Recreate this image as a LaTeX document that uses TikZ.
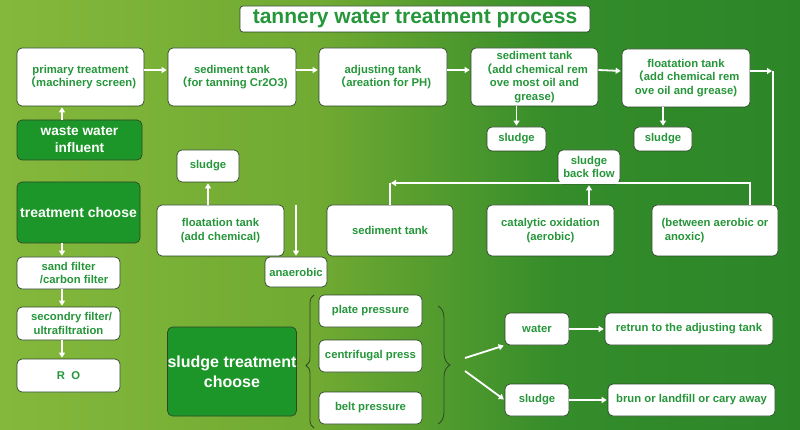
\documentclass[tikz,border=0pt]{standalone}
\usepackage{fontspec}
\setmainfont{Liberation Sans}
\newfontfamily\cjkfont{Noto Sans CJK SC}
\usetikzlibrary{arrows.meta,decorations.pathreplacing}
\definecolor{txtgreen}{RGB}{38,150,58}
\definecolor{boxgreen}{RGB}{28,150,40}
\definecolor{boxline}{RGB}{45,70,40}
\definecolor{bgl}{RGB}{132,184,60}
\definecolor{bgm}{RGB}{112,170,50}
\definecolor{bgd}{RGB}{52,140,42}
\definecolor{bgr}{RGB}{44,134,40}
\pgfdeclarehorizontalshading{bgshade}{100bp}{color(0bp)=(bgl); color(25bp)=(bgl); color(45bp)=(bgm); color(60bp)=(bgd); color(75bp)=(bgr); color(100bp)=(bgr)}
\newcommand\fwp{{\cjkfont （}}
\tikzset{
  box/.style={draw=boxline, fill=white, rounded corners=5pt, line width=0.7pt, inner sep=0pt,
    align=center, text=txtgreen, font=\bfseries\fontsize{11.3}{13.5}\selectfont},
  gbox/.style={box, fill=boxgreen, text=white},
  arr/.style={draw=white, line width=1.8pt, shorten >=1pt, -{Triangle[length=5pt,width=6pt]}},
  wline/.style={draw=white, line width=1.8pt},
  brc/.style={draw=boxline, line width=0.8pt, decorate}
}
\begin{document}
\begin{tikzpicture}[x=1pt,y=-1pt]
    \useasboundingbox (0,0) rectangle (800,430);
    \shade[shading=bgshade] (0,0) rectangle (800,430);
    \node[box, rounded corners=3pt, minimum width=350pt, minimum height=26pt,
      font=\bfseries\fontsize{21}{24}\selectfont] (title) at (415,19) {tannery water treatment process};

    \node[box, minimum width=127pt, minimum height=58pt] (prim) at (80.5,77) {primary treatment\\\fwp machinery screen)};
    \node[box, minimum width=128pt, minimum height=58pt] (sed1) at (232,77) {sediment tank\\\fwp for tanning Cr2O3)};
    \node[box, minimum width=128pt, minimum height=58pt] (adj) at (383,77) {adjusting tank\\\fwp areation for PH)};
    \node[box, minimum width=127pt, minimum height=58pt] (sed2) at (534.5,77) {sediment tank\\\fwp add chemical rem\\ove most oil and\\grease)};
    \node[box, minimum width=128pt, minimum height=58pt] (flo1) at (686,78) {floatation tank\\\fwp add chemical rem\\ove oil and grease)};
    \node[box, minimum width=59pt, minimum height=24pt] (sludgeA) at (516.5,139) {sludge};
    \node[box, minimum width=58pt, minimum height=24pt] (sludgeB) at (663,139) {sludge};
    \node[box, minimum width=62pt, minimum height=34pt] (backflow) at (589,167) {sludge\\back flow};
    \node[box, minimum width=62pt, minimum height=32pt] (sludgeC) at (208,166) {sludge};

    \node[box, minimum width=127pt, minimum height=51pt] (flo2) at (220.5,230.5) {floatation tank\\(add chemical)};
    \node[box, minimum width=126pt, minimum height=51pt] (sed3) at (390,230.5) {sediment tank};
    \node[box, minimum width=127pt, minimum height=51pt] (cat) at (550.5,230.5) {catalytic oxidation\\(aerobic)};
    \node[box, minimum width=126pt, minimum height=51pt, align=left] (anox) at (715,230.5) {(between aerobic or\\\ anoxic)};
    \node[box, minimum width=62pt, minimum height=30pt] (anaer) at (296,272) {anaerobic};

    \node[gbox, minimum width=125pt, minimum height=40pt, font=\bfseries\fontsize{13.7}{17}\selectfont] (waste) at (79.5,140) {waste water\\influent};
    \node[gbox, minimum width=123pt, minimum height=61pt, font=\bfseries\fontsize{14}{16}\selectfont] (tchoose) at (78.5,212.5) {treatment choose};
    \node[box, minimum width=103pt, minimum height=32pt] (sand) at (68.5,273) {sand filter\\\quad /carbon filter};
    \node[box, minimum width=103pt, minimum height=33pt] (second) at (68.5,323.5) {\ \ secondry filter/\\ultrafiltration};
    \node[box, minimum width=103pt, minimum height=33pt] (ro) at (68.5,375.5) {R\ \ O};

    \node[gbox, minimum width=128pt, minimum height=89pt, font=\bfseries\fontsize{16}{20}\selectfont] (stc) at (232,371.5) {sludge treatment\\choose};
    \node[box, minimum width=103pt, minimum height=32pt] (plate) at (370.5,311) {plate pressure};
    \node[box, minimum width=103pt, minimum height=32pt] (centri) at (370.5,356) {centrifugal press};
    \node[box, minimum width=103pt, minimum height=32pt] (belt) at (370.5,408) {belt pressure};
    \node[box, minimum width=64pt, minimum height=32pt] (water) at (537,329) {water};
    \node[box, minimum width=168pt, minimum height=32pt] (retrun) at (689,329) {retrun to the adjusting tank};
    \node[box, minimum width=64pt, minimum height=32pt] (sludgeD) at (537,400) {sludge};
    \node[box, minimum width=167pt, minimum height=32pt] (brun) at (691.5,400) {brun or landfill or cary away};

    \coordinate (lc) at (62,0);
    \coordinate (rc) at (773,71);
    \coordinate (bfl) at (390,183);
    \coordinate (bfr) at (750,183);
    \coordinate (an) at (296,205);
    \coordinate (forkw) at (465,358);
    \coordinate (forks) at (465,371);

    \draw[arr] ([yshift=7pt]prim.east) -- ([yshift=7pt]sed1.west);
    \draw[arr] ([yshift=7pt]sed1.east) -- ([yshift=7pt]adj.west);
    \draw[arr] ([yshift=7pt]adj.east) -- ([yshift=7pt]sed2.west);
    \draw[arr] ([yshift=7pt]sed2.east) -- ([yshift=7pt]flo1.west);
    \draw[arr] (flo1.east |- rc) -- (rc);
    \draw[wline] (rc) -- (anox.north -| rc);
    \draw[arr] (sed2.south -| sludgeA) -- (sludgeA.north);
    \draw[arr] (flo1.south -| sludgeB) -- (sludgeB.north);
    \draw[arr] (anox.north -| bfr) -- (bfr) -- (bfl);
    \draw[wline] (bfl) -- (sed3.north -| bfl);
    \draw[arr] (cat.north -| backflow) -- (backflow.south);
    \draw[arr] (flo2.north -| sludgeC) -- (sludgeC.south);
    \draw[arr] (an) -- (anaer.north -| an);

    \draw[arr] (waste.north -| lc) -- (prim.south -| lc);
    \draw[arr] (tchoose.south -| lc) -- (sand.north -| lc);
    \draw[arr] (sand.south -| lc) -- (second.north -| lc);
    \draw[arr] (second.south -| lc) -- (ro.north -| lc);

    \draw[brc, decoration={brace, amplitude=8pt, aspect=0.47}] (314,428) -- (314,295);
    \draw[brc, decoration={brace, amplitude=12pt, aspect=0.5}] (438,306) -- (438,424);
    \draw[arr] (forkw) -- (water.south west);
    \draw[arr] (forks) -- (sludgeD.west);
    \draw[arr] (water) -- (retrun);
    \draw[arr] (sludgeD) -- (brun);
\end{tikzpicture}
\end{document}
